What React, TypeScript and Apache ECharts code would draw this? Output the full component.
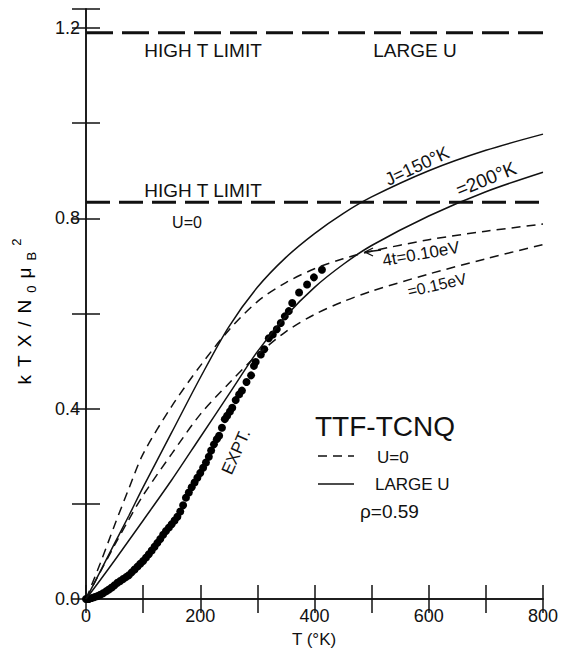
import React, { useEffect, useRef } from "react";
import * as echarts from "echarts";

// ---- data ----
const limitTemps = [0, 800];
const limitLargeU = 1.19;
const limitU0 = 0.834;

const theoryTemps = [0, 25, 50, 75, 100, 150, 200, 250, 300, 350, 400, 450, 500, 600, 700, 800];
const u0T010 = [0, 0.075, 0.155, 0.232, 0.305, 0.405, 0.49, 0.565, 0.625, 0.665, 0.694, 0.715, 0.731, 0.755, 0.773, 0.788];
const u0T015 = [0, 0.057, 0.113, 0.167, 0.218, 0.305, 0.388, 0.453, 0.513, 0.562, 0.598, 0.625, 0.647, 0.683, 0.715, 0.745];
const largeUJ150 = [0, 0.058, 0.117, 0.175, 0.235, 0.35, 0.465, 0.572, 0.655, 0.718, 0.768, 0.81, 0.845, 0.9, 0.943, 0.977];
const largeUJ200 = [0, 0.04, 0.081, 0.123, 0.165, 0.25, 0.34, 0.43, 0.52, 0.595, 0.655, 0.703, 0.743, 0.805, 0.856, 0.897];

const exptTemps = [0, 2, 5, 10, 15, 20, 25, 30, 35, 40, 45, 50, 55, 60, 65, 70, 75, 80, 85, 90, 95, 100, 105, 110, 115, 120, 125, 130, 135, 140, 145, 150, 155, 160, 165, 170, 175, 180, 185, 190, 195, 200, 205, 210, 215, 219, 224, 229, 233, 238, 243, 247, 252, 256, 262, 268, 273, 281, 289, 294, 297, 306, 312, 320, 327, 334, 341, 348, 355, 361, 373, 387, 399, 413];
const exptValues = [0, 0, 0, 0.002, 0.004, 0.006, 0.009, 0.012, 0.016, 0.02, 0.024, 0.029, 0.034, 0.038, 0.042, 0.046, 0.05, 0.056, 0.062, 0.068, 0.074, 0.08, 0.087, 0.094, 0.102, 0.11, 0.118, 0.126, 0.135, 0.143, 0.15, 0.157, 0.165, 0.173, 0.184, 0.197, 0.213, 0.224, 0.235, 0.245, 0.255, 0.265, 0.276, 0.287, 0.299, 0.312, 0.325, 0.336, 0.343, 0.36, 0.378, 0.385, 0.394, 0.402, 0.418, 0.43, 0.438, 0.456, 0.47, 0.49, 0.498, 0.514, 0.525, 0.548, 0.556, 0.567, 0.58, 0.594, 0.605, 0.622, 0.644, 0.661, 0.676, 0.692];

const xLabelValues = [0, 200, 400, 600, 800];
const yLabelValues = [0.0, 0.4, 0.8, 1.2];

const FONT = "Liberation Sans";
const INK = "#111";

const pairs = (xs: number[], ys: number[]) => xs.map((x, i) => [x, ys[i]]);

export default function App() {
  const ref = useRef<HTMLDivElement>(null);

  useEffect(() => {
    if (!ref.current) return;
    const chart = echarts.init(ref.current, null, { renderer: "svg" });

    const axisCommon = {
      axisLine: { show: true, lineStyle: { color: INK, width: 1.5 } },
      axisTick: { show: true, inside: true, length: 14, lineStyle: { color: INK, width: 1.5 } },
      splitLine: { show: false },
    };

    const txt = (text: string, x: number, y: number, fontSize: number, rotDeg = 0, align = "center") => ({
      type: "text",
      x,
      y,
      rotation: (rotDeg * Math.PI) / 180,
      z: 100,
      style: { text, fontSize, fontFamily: FONT, fill: INK, align, verticalAlign: "middle" },
    });

    const main = { fontSize: 19, fontFamily: FONT, color: INK, padding: [0, 4, 0, 4], lineHeight: 28 };
    const sub = { fontSize: 13, fontFamily: FONT, color: INK, padding: [0, 3, 0, 3], lineHeight: 16, verticalAlign: "bottom" };
    const sup = { fontSize: 13, fontFamily: FONT, color: INK, padding: [0, 3, 0, 3], lineHeight: 16, verticalAlign: "top" };

    const option: any = {
      animation: false,
      backgroundColor: "#fff",
      grid: { left: 86, right: 25, top: 9, bottom: 53 },
      xAxis: [
        {
          type: "value",
          min: 0,
          max: 800,
          interval: 100,
          position: "bottom",
          ...axisCommon,
          axisLabel: {
            formatter: (v: number) => (xLabelValues.includes(v) ? String(v) : ""),
            fontSize: 18,
            fontFamily: FONT,
            color: INK,
            margin: 8,
          },
        },
        {
          type: "value",
          min: 0,
          max: 800,
          interval: 100,
          position: "top",
          ...axisCommon,
          axisLabel: { show: false },
        },
      ],
      yAxis: [
        {
          type: "value",
          min: 0,
          max: 1.24,
          interval: 0.2,
          position: "left",
          ...axisCommon,
          axisLabel: {
            formatter: (v: number) => {
              const hit = yLabelValues.find((t) => Math.abs(t - v) < 1e-6);
              return hit !== undefined ? hit.toFixed(1) : "";
            },
            fontSize: 18,
            fontFamily: FONT,
            color: INK,
            margin: 6,
          },
        },
        {
          type: "value",
          min: 0,
          max: 1.24,
          interval: 0.2,
          position: "right",
          ...axisCommon,
          axisLabel: { show: false },
        },
      ],
      series: [
        {
          name: "High T limit, large U",
          type: "line",
          data: pairs(limitTemps, limitTemps.map(() => limitLargeU)),
          symbol: "none",
          lineStyle: { color: INK, width: 3, type: [27, 9] },
        },
        {
          name: "High T limit, U=0",
          type: "line",
          data: pairs(limitTemps, limitTemps.map(() => limitU0)),
          symbol: "none",
          lineStyle: { color: INK, width: 3, type: [24, 9] },
        },
        {
          name: "U=0, 4t=0.10eV",
          type: "line",
          data: pairs(theoryTemps, u0T010),
          smooth: 0.3,
          symbol: "none",
          lineStyle: { color: INK, width: 1.5, type: [9, 6] },
        },
        {
          name: "U=0, 4t=0.15eV",
          type: "line",
          data: pairs(theoryTemps, u0T015),
          smooth: 0.3,
          symbol: "none",
          lineStyle: { color: INK, width: 1.5, type: [9, 6] },
        },
        {
          name: "Large U, J=150K",
          type: "line",
          data: pairs(theoryTemps, largeUJ150),
          smooth: 0.3,
          symbol: "none",
          lineStyle: { color: INK, width: 1.5 },
        },
        {
          name: "Large U, J=200K",
          type: "line",
          data: pairs(theoryTemps, largeUJ200),
          smooth: 0.3,
          symbol: "none",
          lineStyle: { color: INK, width: 1.5 },
        },
        {
          name: "Expt.",
          type: "scatter",
          data: pairs(exptTemps, exptValues),
          symbol: "circle",
          symbolSize: 8,
          itemStyle: { color: "#000", opacity: 1 },
        },
      ],
      graphic: [
        txt("HIGH T LIMIT", 203, 50, 19),
        txt("LARGE U", 415, 50, 19),
        txt("HIGH T LIMIT", 203, 190, 19),
        txt("U=0", 187, 222, 16),
        txt("J=150°K", 417, 166, 18, 25),
        txt("=200°K", 486, 179, 19, 22),
        txt("4t=0.10eV", 421, 254, 17, 10),
        txt("=0.15eV", 437, 285, 16, 13),
        txt("EXPT.", 236, 452, 17, 66),
        {
          type: "polyline",
          z: 100,
          shape: { points: [[373, 248], [365, 252], [373, 256]] },
          style: { stroke: INK, lineWidth: 1.3, fill: null },
        },
        {
          type: "line",
          z: 100,
          shape: { x1: 365, y1: 252, x2: 381, y2: 250 },
          style: { stroke: INK, lineWidth: 1.3 },
        },
        txt("TTF-TCNQ", 385, 426, 28),
        {
          type: "line",
          z: 100,
          shape: { x1: 318, y1: 456, x2: 354, y2: 456 },
          style: { stroke: INK, lineWidth: 1.5, lineDash: [9, 6] },
        },
        txt("U=0", 377, 457, 17, 0, "left"),
        {
          type: "line",
          z: 100,
          shape: { x1: 318, y1: 484, x2: 354, y2: 484 },
          style: { stroke: INK, lineWidth: 1.5 },
        },
        txt("LARGE U", 375, 484, 17, 0, "left"),
        txt("ρ=0.59", 360, 511, 19, 0, "left"),
        txt("T (°K)", 314, 639, 17),
        {
          type: "text",
          x: 24,
          y: 312,
          rotation: Math.PI / 2,
          z: 100,
          style: {
            text: "{a|k}{a|T}{a|X}{a|/}{a|N}{s|0}{a|μ}{s|B}{p|2}",
            align: "center",
            verticalAlign: "middle",
            rich: { a: main, s: sub, p: sup },
          },
        },
      ],
    };

    chart.setOption(option);
    return () => chart.dispose();
  }, []);

  return (
    <div
      ref={ref}
      style={{ position: "fixed", left: 0, top: 0, width: 568, height: 652, background: "#fff" }}
    />
  );
}
